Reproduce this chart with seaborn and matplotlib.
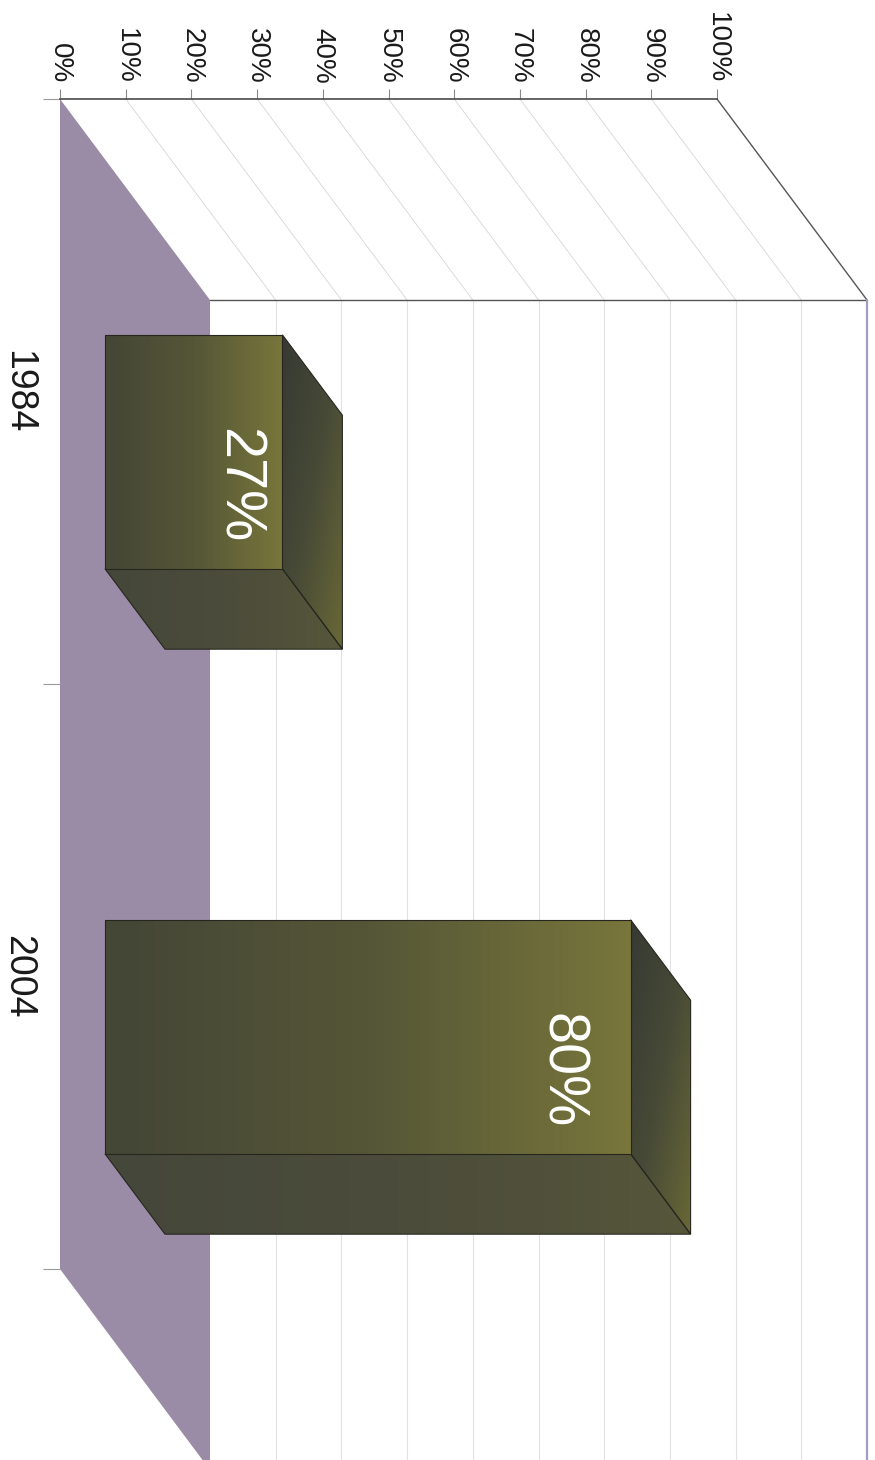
import numpy as np
import pandas as pd
import matplotlib
matplotlib.use("Agg")
import matplotlib.pyplot as plt
import seaborn as sns
from matplotlib.patches import Polygon
from matplotlib.colors import LinearSegmentedColormap

# ---- data -------------------------------------------------------------
years = ["1984", "2004"]
shares = [27, 80]
value_ticks = [0, 10, 20, 30, 40, 50, 60, 70, 80, 90, 100]
value_tick_labels = [f"{t}%" for t in value_ticks]

# horizontal nudge (pixels) of each value label inside its bar
label_nudge_px = [0, -25]

df = pd.DataFrame({"year": years, "share": shares})

# ---- style ------------------------------------------------------------
sns.set_theme(style="white")
plt.rcParams["font.family"] = ["Liberation Sans", "DejaVu Sans"]

W, H, DPI = 875, 1460, 100
fig = plt.figure(figsize=(W / DPI, H / DPI), dpi=DPI)
ax = fig.add_axes([0, 0, 1, 1])

# pixel layout of the front plane and the depth of the box
X0_PX, PX_PER_PCT = 60, 6.57
C0_PX, PX_PER_CAT = 391.5, 585
DX = 150 / PX_PER_PCT          # depth, in value units
DY = 201 / PX_PER_CAT          # depth, in category units
F_FRONT, F_BACK = 0.3, 0.7     # bar position inside the depth

FLOOR = "#9a8ba6"
EDGE = "#26261f"
lo, hi = -0.5, len(years) - 0.5
vmax = value_ticks[-1]

# ---- bars (front faces) ----------------------------------------------
sns.barplot(data=df, x="share", y="year", orient="h", width=0.4, ax=ax,
            color="#6b6b3a", edgecolor=EDGE, linewidth=0.8)
bars = list(ax.patches)


def shade(patch, xy, colors, mode, z):
    xs = [p[0] for p in xy]
    ys = [p[1] for p in xy]
    g = np.linspace(0, 1, 160)
    if mode == "x":
        arr = np.tile(g, (2, 1))
    elif mode == "y":
        arr = np.tile(g[:, None], (1, 2))
    else:
        arr = (g[None, :] * 0.5 + g[:, None] * 0.5)
    cmap = LinearSegmentedColormap.from_list("face", colors)
    im = ax.imshow(arr, cmap=cmap, vmin=0, vmax=1,
                   extent=(min(xs), max(xs), max(ys), min(ys)),
                   origin="upper", aspect="auto", interpolation="bilinear",
                   zorder=z)
    im.set_clip_path(patch)


for bar, nudge in zip(bars, label_nudge_px):
    x0, y0 = bar.get_x(), bar.get_y()
    w, h = bar.get_width(), bar.get_height()
    center = y0 + h / 2

    # push the bar into the box
    xa, ya = x0 + F_FRONT * DX, y0 + F_FRONT * DY
    bar.set_x(xa)
    bar.set_y(ya)
    xb, yb = xa + w, ya + h
    sx, sy = (F_BACK - F_FRONT) * DX, (F_BACK - F_FRONT) * DY

    # lower face
    low_xy = [(xa, yb), (xb, yb), (xb + sx, yb + sy), (xa + sx, yb + sy)]
    low = Polygon(low_xy, closed=True, fc="none", ec=EDGE, lw=0.8, zorder=4.1)
    ax.add_patch(low)
    shade(low, low_xy, ["#45473a", "#4b4c3a", "#56563a"], "x", 4)

    # end face
    end_xy = [(xb, ya), (xb + sx, ya + sy), (xb + sx, yb + sy), (xb, yb)]
    end = Polygon(end_xy, closed=True, fc="none", ec=EDGE, lw=0.8, zorder=4.1)
    ax.add_patch(end)
    shade(end, end_xy, ["#363a33", "#474a36", "#696837"], "xy", 4)

    # front face
    bar.set_facecolor("none")
    bar.set_zorder(5.1)
    shade(bar, [(xa, ya), (xb, yb)], ["#444636", "#555637", "#78763b"], "x", 5)

    ax.text(w + nudge / PX_PER_PCT, center + 0.47 * DY, f"{w:.0f}%",
            rotation=-90, ha="center", va="center", color="white",
            fontsize=41.5, zorder=6)

# ---- box: side wall, back wall, floor ----------------------------------
ax.add_patch(Polygon([(0, lo), (vmax, lo), (vmax + DX, lo + DY), (DX, lo + DY)],
                     closed=True, fc="white", ec="none", zorder=0))
ax.add_patch(Polygon([(0, lo), (0, hi), (DX, hi + DY), (DX, lo + DY)],
                     closed=True, fc=FLOOR, ec="none", zorder=2))

for t in value_ticks[1:-1]:
    ax.plot([t, t + DX], [lo, lo + DY], color="#d6d6d6", lw=0.6, zorder=1)
    ax.plot([t + DX, t + DX], [lo + DY, hi + DY], color="#e2e2e2", lw=0.8, zorder=1)

ax.plot([vmax, vmax + DX], [lo, lo + DY], color="#555555", lw=1.0, zorder=3)
ax.plot([DX, vmax + DX], [lo + DY, lo + DY], color="#555555", lw=1.0, zorder=3)
ax.plot([vmax + DX, vmax + DX], [lo + DY, hi + DY], color="#a39bc4", lw=1.6, zorder=3)

# ---- axes --------------------------------------------------------------
for name in ("bottom", "right"):
    ax.spines[name].set_visible(False)
ax.spines["left"].set_position(("data", 0))
ax.spines["left"].set_visible(False)
ax.spines["top"].set_position(("data", lo))
ax.spines["top"].set_bounds(0, vmax)
ax.spines["top"].set_color("#4a4a4a")
ax.spines["top"].set_linewidth(1.2)
ax.spines["top"].set_zorder(3)

ax.xaxis.set_ticks_position("top")
ax.set_xticks(value_ticks)
ax.set_xticklabels(value_tick_labels, rotation=-90, fontsize=20, color="#1a1a1a")
ax.tick_params(axis="x", which="major", top=True, bottom=False, labeltop=True,
               labelbottom=False, length=7.2, width=0.8, color="#8a8a8a", pad=4)

ax.set_yticks(range(len(years)))
ax.set_yticklabels(years, rotation=-90, va="center", fontsize=27, color="#1a1a1a")
ax.set_yticks(np.arange(len(years) + 1) - 0.5, minor=True)
ax.tick_params(axis="y", which="major", left=True, length=0, pad=17.5)
ax.tick_params(axis="y", which="minor", left=True, length=12, width=0.8,
               color="#9a9a9a")

ax.set_xlabel("")
ax.set_ylabel("")
ax.set_aspect("auto")
ax.set_xlim(-X0_PX / PX_PER_PCT, (W - X0_PX) / PX_PER_PCT)
ax.set_ylim((H - C0_PX) / PX_PER_CAT, -C0_PX / PX_PER_CAT)

fig.savefig("out.png", dpi=DPI)
